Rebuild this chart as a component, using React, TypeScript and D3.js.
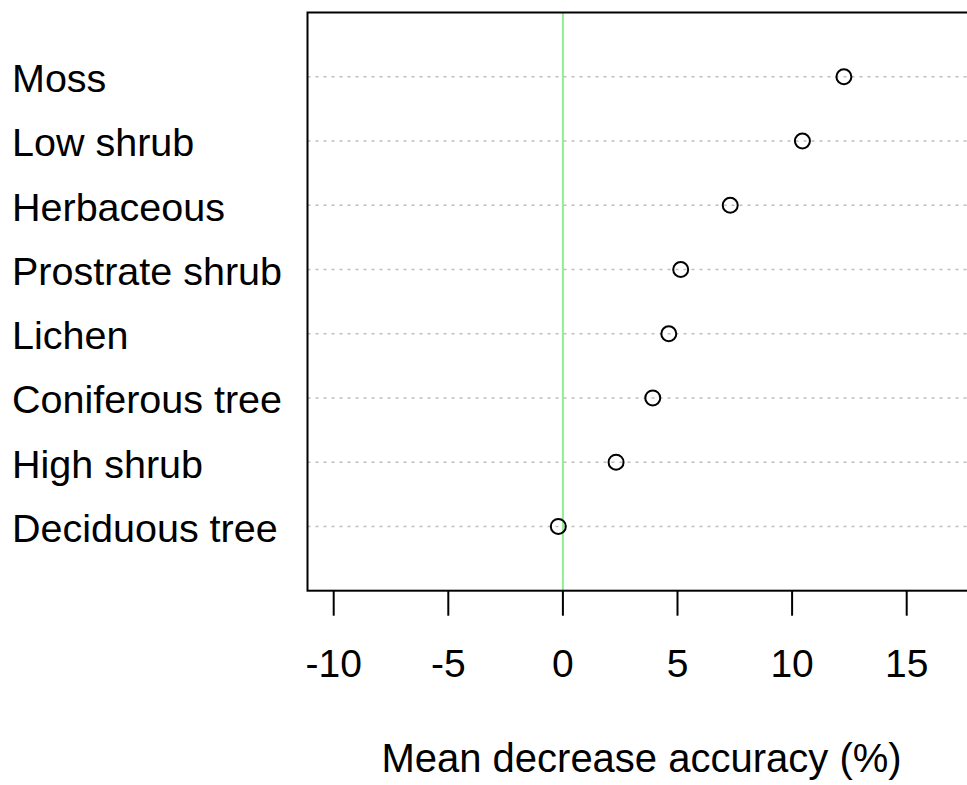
import React from "react";
import * as d3 from "d3";

// Variable importance (mean decrease in accuracy, %)
const categories = [
  "Moss",
  "Low shrub",
  "Herbaceous",
  "Prostrate shrub",
  "Lichen",
  "Coniferous tree",
  "High shrub",
  "Deciduous tree",
];
const values = [12.26, 10.45, 7.3, 5.14, 4.62, 3.92, 2.32, -0.2];
const xTicks = [-10, -5, 0, 5, 10, 15];
const xTitle = "Mean decrease accuracy (%)";

const W = 967;
const H = 785;
const FONT = "'Liberation Sans', Arial, Helvetica, sans-serif";

export default function App() {
  const left = 307.5;
  const top = 12.5;
  const bottom = 590.7;
  const right = 1010; // plot region continues past the visible edge

  const x = d3.scaleLinear().domain([-10, 15]).range([333.7, 906.7]);
  // rows are numbered 1..n from the bottom, as in a dot chart
  const y = d3.scaleLinear().domain([0, categories.length + 1]).range([bottom, top]);
  const n = categories.length;
  const rowY = (i: number) => y(n - i);

  return (
    <svg
      width={W}
      height={H}
      style={{ position: "absolute", left: 0, top: 0, background: "#fff" }}
      fontFamily={FONT}
    >
      <rect x={0} y={0} width={W} height={H} fill="#fff" />
      {/* dotted guide lines */}
      {categories.map((c, i) => (
        <line
          key={"g" + c}
          x1={left}
          x2={right}
          y1={rowY(i)}
          y2={rowY(i)}
          stroke="#bebebe"
          strokeWidth={1.5}
          strokeDasharray="3,5"
        />
      ))}
      {/* zero reference line */}
      <line x1={x(0)} x2={x(0)} y1={top} y2={bottom} stroke="#90ee90" strokeWidth={2} />
      {/* points */}
      {values.map((v, i) => (
        <circle
          key={"p" + categories[i]}
          cx={x(v)}
          cy={rowY(i)}
          r={7.5}
          fill="none"
          stroke="#000"
          strokeWidth={2}
        />
      ))}
      {/* plot frame */}
      <rect
        x={left}
        y={top}
        width={right - left}
        height={bottom - top}
        fill="none"
        stroke="#000"
        strokeWidth={2}
      />
      {/* row labels */}
      {categories.map((c, i) => (
        <text key={"l" + c} x={12} y={rowY(i) + 15.5} fontSize={39.5} fill="#000">
          {c}
        </text>
      ))}
      {/* x axis */}
      {xTicks.map((t) => (
        <g key={"t" + t}>
          <line x1={x(t)} x2={x(t)} y1={bottom} y2={bottom + 25} stroke="#000" strokeWidth={2} />
          <text x={x(t)} y={677} fontSize={39} textAnchor="middle" fill="#000">
            {t}
          </text>
        </g>
      ))}
      <text x={641.5} y={772} fontSize={40} textAnchor="middle" fill="#000">
        {xTitle}
      </text>
    </svg>
  );
}
